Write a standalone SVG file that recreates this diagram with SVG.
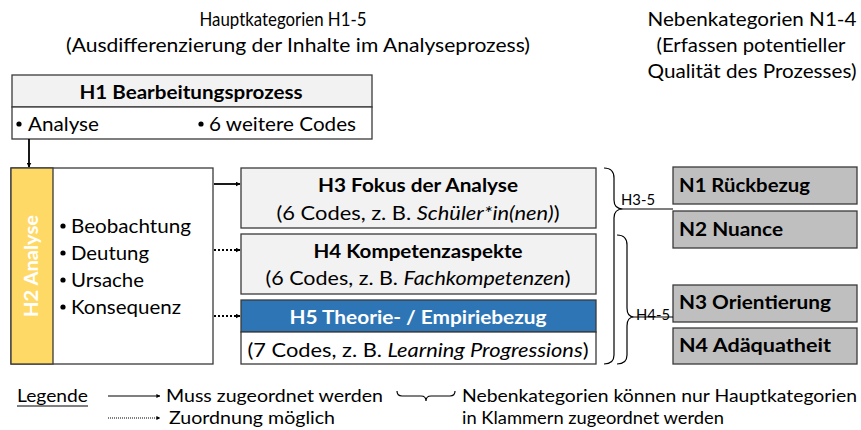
<svg xmlns="http://www.w3.org/2000/svg" width="861" height="430" viewBox="0 0 861 430">
<defs>
<style>
text{font-family:Lato,"Liberation Sans",sans-serif;fill:#000}
.hd{font-size:19px}
.b{font-weight:bold;font-size:19px}
.r{font-size:19px}
.lg{font-size:18px}
.box{stroke:#3a3a3a;stroke-width:1.3}
.ln{stroke:#000;stroke-width:1.8;fill:none}
.dt{stroke:#000;stroke-width:1.8;fill:none;stroke-dasharray:2 2}
.br{stroke:#000;stroke-width:1.2;fill:none}
</style>
<marker id="ah" viewBox="0 0 10 10" refX="9" refY="5" markerWidth="5" markerHeight="5" orient="auto" markerUnits="userSpaceOnUse"><path d="M0,0L10,5L0,10z" fill="#000"/></marker>
<marker id="ahs" viewBox="0 0 10 10" refX="9" refY="5" markerWidth="4" markerHeight="4" orient="auto" markerUnits="userSpaceOnUse"><path d="M0,0L10,5L0,10z" fill="#000"/></marker>
</defs>

<g id="headers">
<text class="hd" x="283" y="26" text-anchor="middle" textLength="167" lengthAdjust="spacingAndGlyphs">Hauptkategorien H1-5</text>
<text class="hd" x="298" y="52" text-anchor="middle" textLength="464" lengthAdjust="spacingAndGlyphs">(Ausdifferenzierung der Inhalte im Analyseprozess)</text>
<text class="hd" x="752" y="26" text-anchor="middle" textLength="209" lengthAdjust="spacingAndGlyphs">Nebenkategorien N1-4</text>
<text class="hd" x="751" y="52" text-anchor="middle" textLength="189" lengthAdjust="spacingAndGlyphs">(Erfassen potentieller</text>
<text class="hd" x="752" y="78" text-anchor="middle" textLength="209" lengthAdjust="spacingAndGlyphs">Qualität des Prozesses)</text>
</g>

<g id="H1">
<rect class="box" x="12" y="75" width="360" height="32" fill="#f2f2f2"/>
<rect class="box" x="12" y="107" width="360" height="32" fill="#fff"/>
<text class="b" x="191" y="99" text-anchor="middle" textLength="223" lengthAdjust="spacingAndGlyphs">H1 Bearbeitungsprozess</text>
<circle cx="19" cy="124" r="2.6" fill="#000"/>
<text class="r" x="28" y="131" textLength="71" lengthAdjust="spacingAndGlyphs">Analyse</text>
<circle cx="201" cy="124" r="2.6" fill="#000"/>
<text class="r" x="209" y="131" textLength="147" lengthAdjust="spacingAndGlyphs">6 weitere Codes</text>
</g>

<g id="H2">
<rect class="box" x="11" y="168" width="202" height="196" fill="#fff"/>
<rect class="box" x="11" y="168" width="42" height="196" fill="#ffd966"/>
<text x="38" y="266" transform="rotate(-90 38 266)" text-anchor="middle" font-size="19" font-weight="bold" style="fill:#fff" textLength="102" lengthAdjust="spacingAndGlyphs">H2 Analyse</text>
<circle cx="63" cy="226" r="2.6" fill="#000"/>
<text class="r" x="71" y="233" textLength="120" lengthAdjust="spacingAndGlyphs">Beobachtung</text>
<circle cx="63" cy="253" r="2.6" fill="#000"/>
<text class="r" x="71" y="260" textLength="78" lengthAdjust="spacingAndGlyphs">Deutung</text>
<circle cx="63" cy="280" r="2.6" fill="#000"/>
<text class="r" x="71" y="287" textLength="73" lengthAdjust="spacingAndGlyphs">Ursache</text>
<circle cx="63" cy="307" r="2.6" fill="#000"/>
<text class="r" x="71" y="314" textLength="110" lengthAdjust="spacingAndGlyphs">Konsequenz</text>
</g>

<g id="H3">
<rect class="box" x="241" y="168" width="355" height="60" fill="#f2f2f2"/>
<text class="b" x="418" y="192" text-anchor="middle" textLength="200" lengthAdjust="spacingAndGlyphs">H3 Fokus der Analyse</text>
<text class="r" x="418" y="220" text-anchor="middle" textLength="283" lengthAdjust="spacingAndGlyphs">(6 Codes, z. B. <tspan font-style="italic">Schüler*in(nen)</tspan>)</text>
</g>

<g id="H4">
<rect class="box" x="241" y="234" width="355" height="60" fill="#f2f2f2"/>
<text class="b" x="418" y="258" text-anchor="middle" textLength="209" lengthAdjust="spacingAndGlyphs">H4 Kompetenzaspekte</text>
<text class="r" x="418" y="285" text-anchor="middle" textLength="305" lengthAdjust="spacingAndGlyphs">(6 Codes, z. B. <tspan font-style="italic">Fachkompetenzen</tspan>)</text>
</g>

<g id="H5">
<rect class="box" x="241" y="300" width="355" height="32" fill="#2e75b6"/>
<rect class="box" x="241" y="332" width="355" height="32" fill="#fff"/>
<text x="418" y="324" text-anchor="middle" font-size="19" font-weight="bold" style="fill:#fff" textLength="257" lengthAdjust="spacingAndGlyphs">H5 Theorie- / Empiriebezug</text>
<text class="r" x="418" y="357" text-anchor="middle" textLength="341" lengthAdjust="spacingAndGlyphs">(7 Codes, z. B. <tspan font-style="italic">Learning Progressions</tspan>)</text>
</g>

<g id="N1">
<rect class="box" x="673" y="167" width="184" height="37" fill="#bfbfbf"/>
<text class="b" x="679" y="192" textLength="131" lengthAdjust="spacingAndGlyphs">N1 Rückbezug</text>
</g>
<g id="N2">
<rect class="box" x="673" y="211" width="184" height="37" fill="#bfbfbf"/>
<text class="b" x="679" y="236" textLength="104" lengthAdjust="spacingAndGlyphs">N2 Nuance</text>
</g>
<g id="N3">
<rect class="box" x="673" y="285" width="184" height="37" fill="#bfbfbf"/>
<text class="b" x="679" y="309" textLength="152" lengthAdjust="spacingAndGlyphs">N3 Orientierung</text>
</g>
<g id="N4">
<rect class="box" x="673" y="328" width="184" height="36" fill="#bfbfbf"/>
<text class="b" x="679" y="352" textLength="152" lengthAdjust="spacingAndGlyphs">N4 Adäquatheit</text>
</g>

<g id="connectors">
<line class="ln" x1="29" y1="139" x2="29" y2="167" marker-end="url(#ah)"/>
<line class="ln" x1="214" y1="184" x2="240" y2="184" marker-end="url(#ah)"/>
<line class="dt" x1="214" y1="250" x2="240" y2="250" marker-end="url(#ah)"/>
<line class="dt" x1="214" y1="316" x2="240" y2="316" marker-end="url(#ah)"/>
<path class="br" d="M604,168 Q614,168 614,178 L614,200 Q614,209 623,209 Q614,209 614,218 L614,355 Q614,364 604,364"/>
<line class="br" x1="623" y1="209" x2="673" y2="209"/>
<text x="621" y="205" font-size="15" textLength="34" lengthAdjust="spacingAndGlyphs">H3-5</text>
<path class="br" d="M617,235 Q627,235 627,245 L627,308 Q627,317 634,317 Q627,317 627,326 L627,355 Q627,364 617,364"/>
<line class="br" x1="634" y1="317" x2="673" y2="317"/>
<text x="636" y="320" font-size="15" textLength="34" lengthAdjust="spacingAndGlyphs">H4-5</text>
</g>

<g id="legend">
<text class="lg" x="17" y="402" textLength="71" lengthAdjust="spacingAndGlyphs">Legende</text>
<line x1="17" y1="406" x2="88" y2="406" stroke="#000" stroke-width="1"/>
<line x1="108" y1="396" x2="160" y2="396" stroke="#000" stroke-width="1.2" marker-end="url(#ahs)"/>
<text class="lg" x="166" y="402" textLength="217" lengthAdjust="spacingAndGlyphs">Muss zugeordnet werden</text>
<line x1="108" y1="418" x2="160" y2="418" stroke="#000" stroke-width="1.2" stroke-dasharray="1 1" marker-end="url(#ahs)"/>
<text class="lg" x="169" y="424" textLength="166" lengthAdjust="spacingAndGlyphs">Zuordnung möglich</text>
<path class="br" d="M397,391 Q397,396 402,396 L421,396 Q426,396 426,401 Q426,396 431,396 L450,396 Q455,396 455,391"/>
<text class="lg" x="462" y="402" textLength="395" lengthAdjust="spacingAndGlyphs">Nebenkategorien können nur Hauptkategorien</text>
<text class="lg" x="462" y="424" textLength="262" lengthAdjust="spacingAndGlyphs">in Klammern zugeordnet werden</text>
</g>
</svg>
